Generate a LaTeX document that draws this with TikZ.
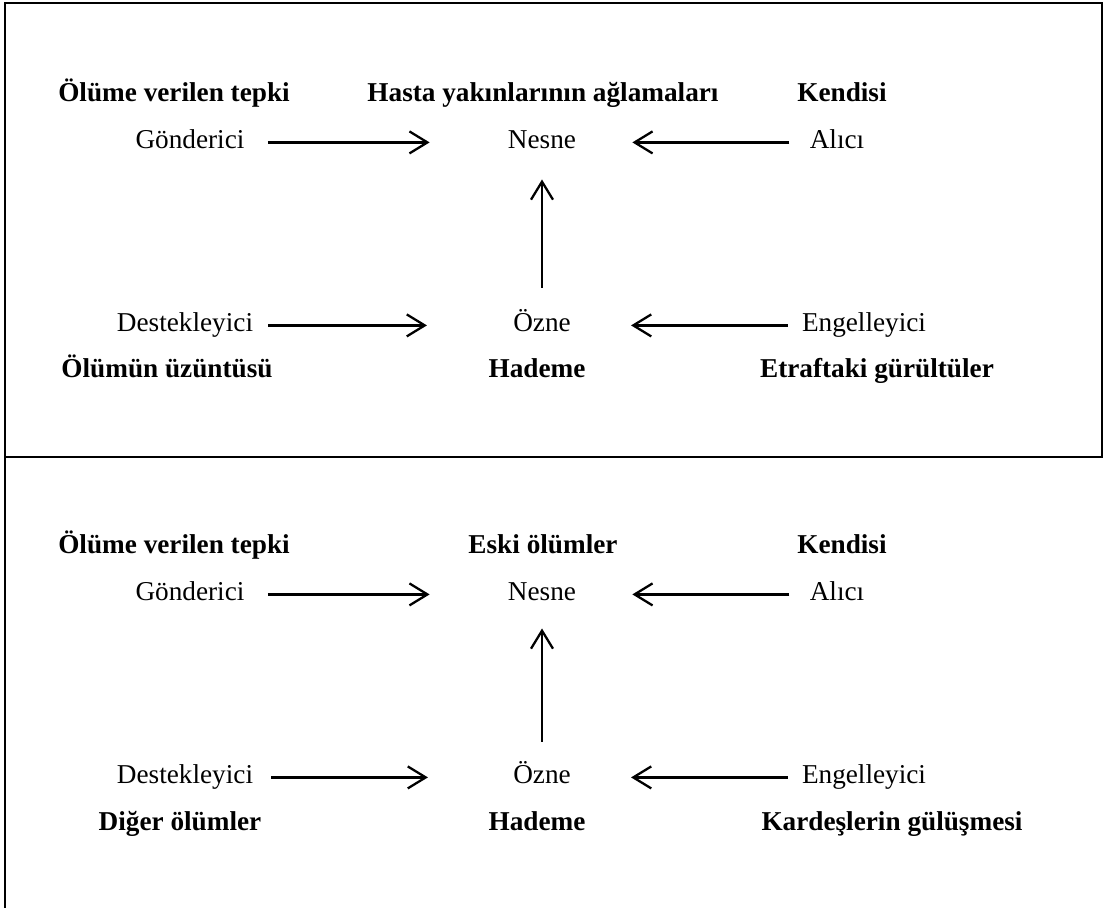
\documentclass[tikz,border=0pt]{standalone}
\usepackage{fontspec}
\setmainfont{Liberation Serif}
\usetikzlibrary{arrows.meta}

\begin{document}
\begin{tikzpicture}[
  x=0.02cm, y=-0.02cm,
  rolelab/.style={font=\fontsize{15.5}{18}\selectfont, anchor=base, inner sep=0pt, text height=11pt, text depth=3.5pt},
  actlab/.style={font=\fontsize{15.5}{18}\selectfont\bfseries, anchor=base, inner sep=0pt},
  flow/.style={-{Straight Barb[length=3.6mm, width=4.4mm]}, line width=1.3pt},
  frame/.style={line width=1.6pt}
]
\useasboundingbox (0,0) rectangle (1103,908);

% frame
\draw[frame] (5,908) -- (5,3) -- (1102,3) -- (1102,457);
\draw[frame] (5,457) -- (1103,457);

% upper panel
\node[actlab] (tepA) at (174,102) {Ölüme verilen tepki};
\node[actlab] (hasA) at (543,102) {Hasta yakınlarının ağlamaları};
\node[actlab] (kenA) at (842,102) {Kendisi};

\node[rolelab] (gonA) at (190,149) {Gönderici};
\node[rolelab] (nesA) at (542,149) {Nesne};
\node[rolelab] (aliA) at (837,149) {Alıcı};

\node[rolelab] (desA) at (185,332) {Destekleyici};
\node[rolelab] (oznA) at (542,332) {Özne};
\node[rolelab] (engA) at (864,332) {Engelleyici};

\node[actlab] (uzuA) at (167,378) {Ölümün üzüntüsü};
\node[actlab] (hadA) at (537,378) {Hademe};
\node[actlab] (etrA) at (877,378) {Etraftaki gürültüler};

\draw[flow, shorten <=0.46cm, shorten >=1.56cm] (gonA.east) -- (nesA.west);
\draw[flow, shorten <=0.4cm, shorten >=1.12cm] (aliA.west) -- (nesA.east);
\draw[flow, shorten <=0.49cm, shorten >=0.48cm] (oznA.north) -- (nesA.south);
\draw[flow, shorten <=0.3cm, shorten >=1.72cm] (desA.east) -- (oznA.west);
\draw[flow, shorten <=0.28cm, shorten >=1.2cm] (engA.west) -- (oznA.east);

% lower panel
\node[actlab] (tepB) at (174,554) {Ölüme verilen tepki};
\node[actlab] (eskB) at (543,554) {Eski ölümler};
\node[actlab] (kenB) at (842,554) {Kendisi};

\node[rolelab] (gonB) at (190,601) {Gönderici};
\node[rolelab] (nesB) at (542,601) {Nesne};
\node[rolelab] (aliB) at (837,601) {Alıcı};

\node[rolelab] (desB) at (185,784) {Destekleyici};
\node[rolelab] (oznB) at (542,784) {Özne};
\node[rolelab] (engB) at (864,784) {Engelleyici};

\node[actlab] (digB) at (180,830) {Diğer ölümler};
\node[actlab] (hadB) at (537,830) {Hademe};
\node[actlab] (karB) at (892,830) {Kardeşlerin gülüşmesi};

\draw[flow, shorten <=0.46cm, shorten >=1.56cm] (gonB.east) -- (nesB.west);
\draw[flow, shorten <=0.4cm, shorten >=1.12cm] (aliB.west) -- (nesB.east);
\draw[flow, shorten <=0.45cm, shorten >=0.42cm] (oznB.north) -- (nesB.south);
\draw[flow, shorten <=0.36cm, shorten >=1.7cm] (desB.east) -- (oznB.west);
\draw[flow, shorten <=0.28cm, shorten >=1.2cm] (engB.west) -- (oznB.east);

\end{tikzpicture}
\end{document}
